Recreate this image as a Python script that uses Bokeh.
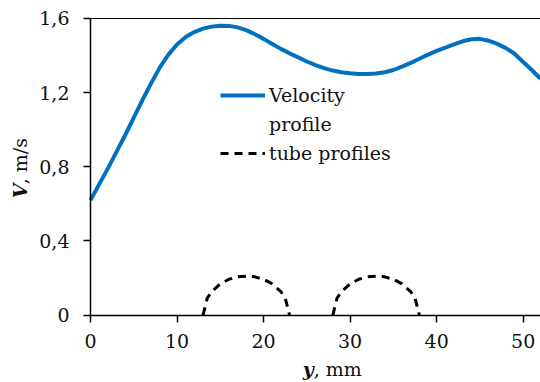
import math
from bokeh.plotting import figure
from bokeh.models import Range1d, FixedTicker, Label, Legend, LegendItem, LinearAxis
from bokeh.embed import file_html
from bokeh.resources import INLINE

# ---- data ----
y_mm = list(range(0, 53))
velocity = [0.62, 0.705, 0.79, 0.88, 0.97, 1.065, 1.16, 1.25, 1.335, 1.405,
            1.46, 1.50, 1.527, 1.545, 1.556, 1.561, 1.56, 1.552, 1.537, 1.515,
            1.49, 1.462, 1.436, 1.412, 1.39, 1.368, 1.348, 1.332, 1.319, 1.31,
            1.304, 1.30, 1.30, 1.303, 1.31, 1.322, 1.34, 1.36, 1.383, 1.405,
            1.425, 1.443, 1.46, 1.477, 1.488, 1.49, 1.48, 1.463, 1.44, 1.41,
            1.365, 1.322, 1.275]

tube1_x = [13.0, 13.5, 14, 15, 16, 17, 18, 19, 20, 21, 22, 22.5, 23.0]
tube1_y = [0.0, 0.092, 0.126, 0.168, 0.193, 0.206, 0.21, 0.206, 0.193, 0.168, 0.126, 0.092, 0.0]
tube2_x = [28.0, 28.5, 29, 30, 31, 32, 33, 34, 35, 36, 37, 37.5, 38.0]
tube2_y = [0.0, 0.092, 0.126, 0.168, 0.193, 0.206, 0.21, 0.206, 0.193, 0.168, 0.126, 0.092, 0.0]

x_ticks = [0, 10, 20, 30, 40, 50]
y_ticks = [0, 0.4, 0.8, 1.2, 1.6]
y_tick_labels = ["0", "0,4", "0,8", "1,2", "1,6"]

FONT = "DejaVu Serif"
FS = "19px"
BLUE = "#0070C0"
TXT = "#111111"

p = figure(width=540, height=382, output_backend="svg", toolbar_location=None,
           x_range=Range1d(-10.40, 52.0), y_range=Range1d(-0.364, 1.697),
           x_axis_location=None, y_axis_location=None,
           min_border=0)
p.grid.visible = False
p.outline_line_color = None
p.background_fill_color = "white"
p.border_fill_color = "white"


def style(ax):
    ax.axis_line_color = "black"
    ax.axis_line_width = 1.5
    ax.major_tick_line_color = "black"
    ax.major_tick_line_width = 1.5
    ax.major_tick_out = 7
    ax.major_tick_in = 0
    ax.minor_tick_line_color = None
    ax.major_label_text_font = FONT
    ax.major_label_text_font_size = FS
    ax.major_label_text_color = TXT


xax = LinearAxis(fixed_location=0, bounds=(0, 52), ticker=FixedTicker(ticks=x_ticks))
style(xax)
xax.major_label_standoff = 12
p.add_layout(xax, "below")

yax = LinearAxis(fixed_location=0, bounds=(0, 1.6), ticker=FixedTicker(ticks=y_ticks))
style(yax)
yax.major_label_overrides = {t: l for t, l in zip(y_ticks, y_tick_labels)}
yax.major_label_standoff = 14
p.add_layout(yax, "left")

# top border of the plot area
top = LinearAxis(fixed_location=1.6, bounds=(0, 52), ticker=FixedTicker(ticks=[]))
top.axis_line_color = "black"
top.axis_line_width = 1
top.major_label_text_alpha = 0
top.major_tick_line_color = None
top.minor_tick_line_color = None
p.add_layout(top, "above")

r_vel = p.line(y_mm, velocity, line_color=BLUE, line_width=4)
r_t1 = p.line(tube1_x, tube1_y, line_color="black", line_width=3, line_dash="8 6")
r_t2 = p.line(tube2_x, tube2_y, line_color="black", line_width=3, line_dash="8 6")
r_blank = p.line([0, 0], [0, 0], line_alpha=0)

legend = Legend(items=[LegendItem(label="Velocity", renderers=[r_vel]),
                       LegendItem(label="profile", renderers=[r_blank]),
                       LegendItem(label="tube profiles", renderers=[r_t1])],
                location=(220, 215), orientation="vertical",
                label_text_font=FONT, label_text_font_size=FS,
                label_text_color=TXT,
                glyph_width=45, glyph_height=28, label_height=28,
                label_standoff=4, spacing=1, padding=0, margin=0,
                border_line_color=None, background_fill_alpha=0)
p.add_layout(legend, "center")

# axis titles (mixed bold-italic / regular)
p.add_layout(Label(x=-8.1, y=0.63, text="V", angle=math.pi / 2,
                   text_font=FONT, text_font_size=FS, text_font_style="bold italic",
                   text_align="left", text_baseline="middle", text_color=TXT))
p.add_layout(Label(x=-8.1, y=0.705, text=", m/s", angle=math.pi / 2,
                   text_font=FONT, text_font_size=FS,
                   text_align="left", text_baseline="middle", text_color=TXT))
p.add_layout(Label(x=25.8, y=-0.29, text="y",
                   text_font=FONT, text_font_size=FS, text_font_style="bold italic",
                   text_align="right", text_baseline="middle", text_color=TXT))
p.add_layout(Label(x=25.8, y=-0.29, text=", mm",
                   text_font=FONT, text_font_size=FS,
                   text_align="left", text_baseline="middle", text_color=TXT))

open("out.html", "w").write(file_html(p, INLINE))
